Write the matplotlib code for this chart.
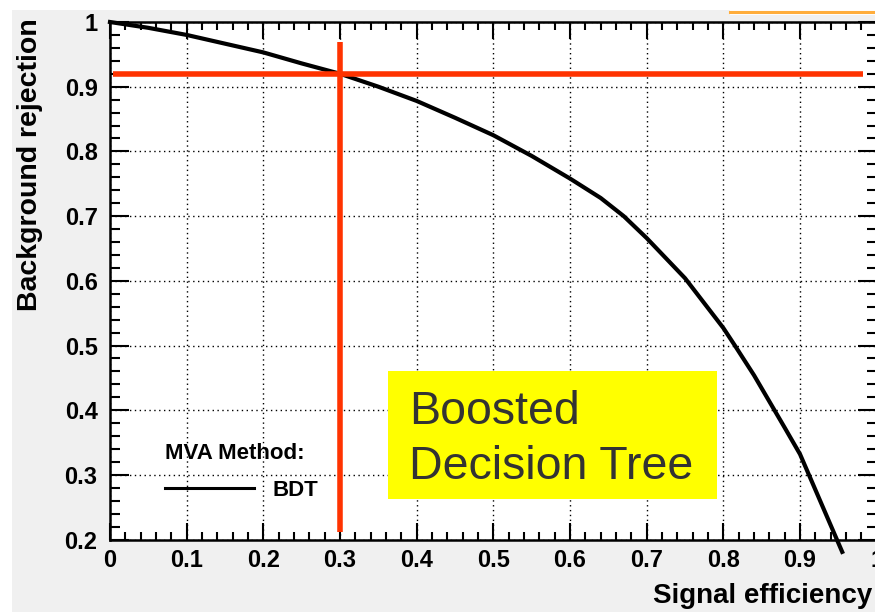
import matplotlib
matplotlib.use('Agg')
import matplotlib.pyplot as plt
from matplotlib.patches import Rectangle
from matplotlib.lines import Line2D

plt.rcParams['font.family'] = ['Liberation Sans', 'DejaVu Sans']

# ROC curve of the BDT
sig_eff = [0.0, 0.05, 0.1, 0.2, 0.25, 0.3, 0.35, 0.4, 0.45, 0.5, 0.55, 0.6,
           0.64, 0.67, 0.7, 0.75, 0.8, 0.815, 0.84, 0.88, 0.9, 0.955]
bkg_rej = [1.0, 0.991, 0.98, 0.953, 0.936, 0.92, 0.9, 0.878, 0.852, 0.825,
           0.793, 0.758, 0.728, 0.700, 0.666, 0.604, 0.527, 0.5, 0.454,
           0.373, 0.332, 0.181]

# working point
cut_eff = 0.3
cut_rej = 0.92

x_ticks = [0, 0.1, 0.2, 0.3, 0.4, 0.5, 0.6, 0.7, 0.8, 0.9, 1.0]
x_labels = ['0', '0.1', '0.2', '0.3', '0.4', '0.5', '0.6', '0.7', '0.8', '0.9', '1']
y_ticks = [0.2, 0.3, 0.4, 0.5, 0.6, 0.7, 0.8, 0.9, 1.0]
y_labels = ['0.2', '0.3', '0.4', '0.5', '0.6', '0.7', '0.8', '0.9', '1']

W, H = 875, 612
fig = plt.figure(figsize=(W / 100, H / 100), dpi=100)
fig.patch.set_facecolor('white')

# grey canvas of the screenshot
fig.add_artist(Rectangle((12 / W, 0), 1, (H - 10) / H, transform=fig.transFigure,
                         facecolor='#f0f0f0', edgecolor='none', zorder=-10))
fig.add_artist(Rectangle((730 / W, (H - 15) / H), 1, 5 / H, transform=fig.transFigure,
                         facecolor='white', edgecolor='none', zorder=-9))
fig.add_artist(Line2D([730 / W, 1], [(H - 11.5) / H] * 2, transform=fig.transFigure,
                      color='#ffad3b', lw=2.2, zorder=-8))

ax = fig.add_axes([110 / W, (H - 539.6) / H, 766.7 / W, 517.6 / H])
ax.set_facecolor('white')
ax.set_xlim(0, 1)
ax.set_ylim(0.2, 1)

# curve
ax.plot(sig_eff, bkg_rej, color='black', lw=3, clip_on=False, zorder=4, label='BDT')

# cut lines
ax.hlines(cut_rej, 0.004, 0.982, color='#ff3300', lw=4, zorder=5)
ax.vlines(cut_eff, 0.212, 0.969, color='#ff3300', lw=4, zorder=5)

# ticks and grid
ax.set_xticks(x_ticks)
ax.set_xticklabels(x_labels)
ax.set_yticks(y_ticks)
ax.set_yticklabels(y_labels)
ax.set_xticks([i / 50 for i in range(51)], minor=True)
ax.set_yticks([0.2 + i / 50 for i in range(41)], minor=True)
ax.tick_params(axis='both', which='both', direction='in', top=True, right=True,
               width=1.5, color='black')
ax.tick_params(axis='x', which='major', length=12, pad=6.5, labelsize=17)
ax.tick_params(axis='x', which='minor', length=6)
ax.tick_params(axis='y', which='major', length=14, pad=9, labelsize=17)
ax.tick_params(axis='y', which='minor', length=7)
for lab in ax.get_xticklabels() + ax.get_yticklabels():
    lab.set_fontweight('bold')
ax.grid(True, which='major', color='black', lw=1.0, linestyle=(0, (1, 2.5)))
ax.set_axisbelow(True)
for s in ax.spines.values():
    s.set_linewidth(1.8)
    s.set_zorder(6)

# method box
ax.add_patch(Rectangle((0.3626, 0.2627), 0.4291, 0.1979, facecolor='#ffff00',
                       edgecolor='none', zorder=3))
ax.text(0.39, 0.3787, 'Boosted', fontsize=33.5, color='#333333', ha='left',
        va='baseline', zorder=4)
ax.text(0.39, 0.2936, 'Decision Tree', fontsize=33.5, color='#333333', ha='left',
        va='baseline', zorder=4)

# legend
leg = ax.legend(loc='upper left', bbox_to_anchor=(0.0717, 0.187), frameon=False,
                title='MVA Method:', handlelength=4.0, handletextpad=0.85,
                borderpad=0, borderaxespad=0, labelspacing=0.72,
                prop={'weight': 'bold', 'size': 16},
                title_fontproperties={'weight': 'bold', 'size': 16},
                alignment='left')
for h in leg.legend_handles:
    h.set_linewidth(2.2)

# axis titles
fig.text(872 / W, 9 / H, 'Signal efficiency', fontsize=20, fontweight='bold',
         ha='right', va='baseline')
fig.text(30 / W, 1 - 18 / H, 'Background rejection', fontsize=20.5, fontweight='bold',
         rotation=90, ha='center', va='top')

fig.savefig('out.png', dpi=100)
